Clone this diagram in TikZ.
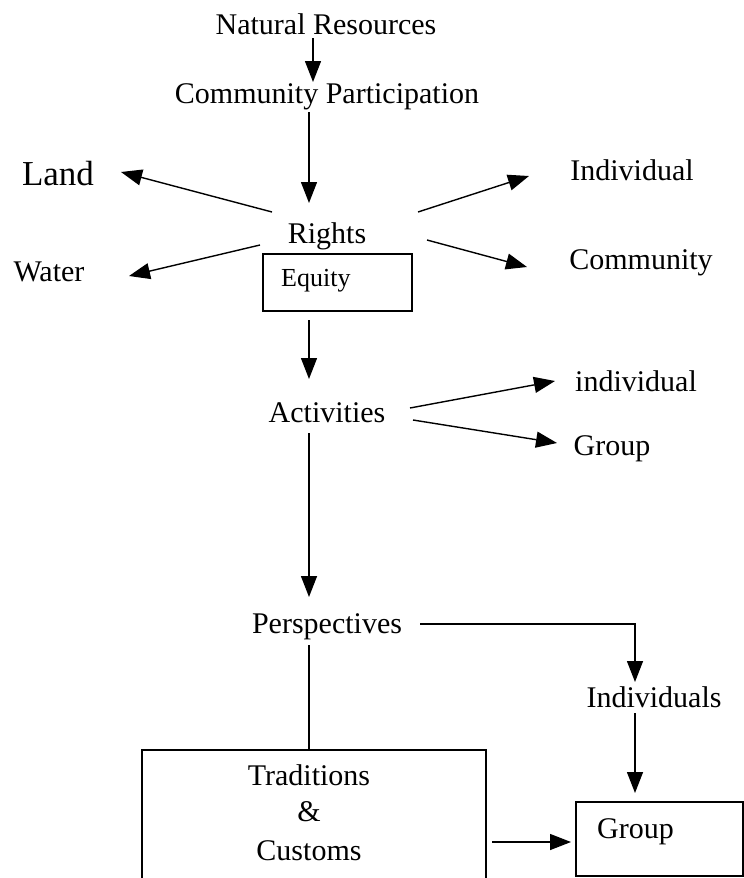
\documentclass[tikz,border=0pt]{standalone}
\usepackage{fontspec}
\setmainfont{Liberation Serif}
\usetikzlibrary{arrows.meta}
\begin{document}
\begin{tikzpicture}[x=1pt,y=-1pt,
  lbl/.style={inner sep=0pt,font=\fontsize{30}{34}\selectfont},
  conn/.style={line width=1.4pt,-{Triangle[length=21pt,width=16pt]}},
  plain/.style={line width=1.4pt},
  boxed/.style={draw,line width=1.5pt}]
\useasboundingbox (0,0) rectangle (744,878);
\fill[white] (0,0) rectangle (744,878);
% text nodes
\node[lbl] (nat) at (326,24) {Natural Resources};
\node[lbl] (cp) at (327,97) {Community Participation};
\node[lbl,font=\fontsize{35}{40}\selectfont] (land) at (58,174) {Land};
\node[lbl] (ind1) at (632,170) {Individual};
\node[lbl] (rights) at (327,236) {Rights};
\node[lbl] (comm) at (641,263) {Community};
\node[lbl] (water) at (49,272) {Water};
\node[boxed,minimum width=149pt,minimum height=57pt,inner sep=0pt] (eqbox) at (337.5,282.5) {};
\node[lbl,font=\fontsize{26}{30}\selectfont,anchor=west] (equity) at (281,281) {Equity};
\node[lbl] (act) at (327,413) {Activities};
\node[lbl] (ind2) at (636,381) {individual};
\node[lbl] (grp1) at (612,449) {Group};
\node[lbl] (persp) at (327,627) {Perspectives};
\node[lbl] (inds) at (654,697) {Individuals};
\node[boxed,minimum width=344pt,minimum height=150pt,inner sep=0pt] (trad) at (314,825) {};
\node[lbl] (t1) at (309,775) {Traditions};
\node[lbl] (t2) at (309,812) {\&};
\node[lbl] (t3) at (309,851) {Customs};
\node[boxed,minimum width=167pt,minimum height=74pt,inner sep=0pt] (grpbox) at (659.5,839) {};
\node[lbl,anchor=west] (grp2) at (597,832) {Group};
% connector end points
\coordinate (a1s) at (313,38);  \coordinate (a1e) at (313,82);
\coordinate (a2s) at (309,112); \coordinate (a2e) at (309,203);
\coordinate (a3s) at (272,212); \coordinate (a3e) at (121,172);
\coordinate (a4s) at (260,245); \coordinate (a4e) at (129,276);
\coordinate (a5s) at (418,212); \coordinate (a5e) at (529,176);
\coordinate (a6s) at (427,240); \coordinate (a6e) at (527,267);
\coordinate (a7s) at (309,320); \coordinate (a7e) at (309,379);
\coordinate (a8s) at (410,408); \coordinate (a8e) at (555,381);
\coordinate (a9s) at (413,420); \coordinate (a9e) at (557,443);
\coordinate (a10s) at (309,433); \coordinate (a10e) at (309,597);
\coordinate (a11s) at (420,624); \coordinate (a11e) at (635,682);
\coordinate (a12s) at (635,713); \coordinate (a12e) at (635,793);
\coordinate (a13s) at (309,645);
\coordinate (a14s) at (492,842); \coordinate (a14e) at (571,842);
% connectors
\draw[conn] (a1s) -- (a1e);
\draw[conn] (a2s) -- (a2e);
\draw[conn] (a3s) -- (a3e);
\draw[conn] (a4s) -- (a4e);
\draw[conn] (a5s) -- (a5e);
\draw[conn] (a6s) -- (a6e);
\draw[conn] (a7s) -- (a7e);
\draw[conn] (a8s) -- (a8e);
\draw[conn] (a9s) -- (a9e);
\draw[conn] (a10s) -- (a10e);
\draw[conn] (a11s) -| (a11e);
\draw[conn] (a12s) -- (a12e);
\draw[plain] (a13s) -- (trad.north -| a13s);
\draw[conn] (a14s) -- (a14e);
\end{tikzpicture}
\end{document}
